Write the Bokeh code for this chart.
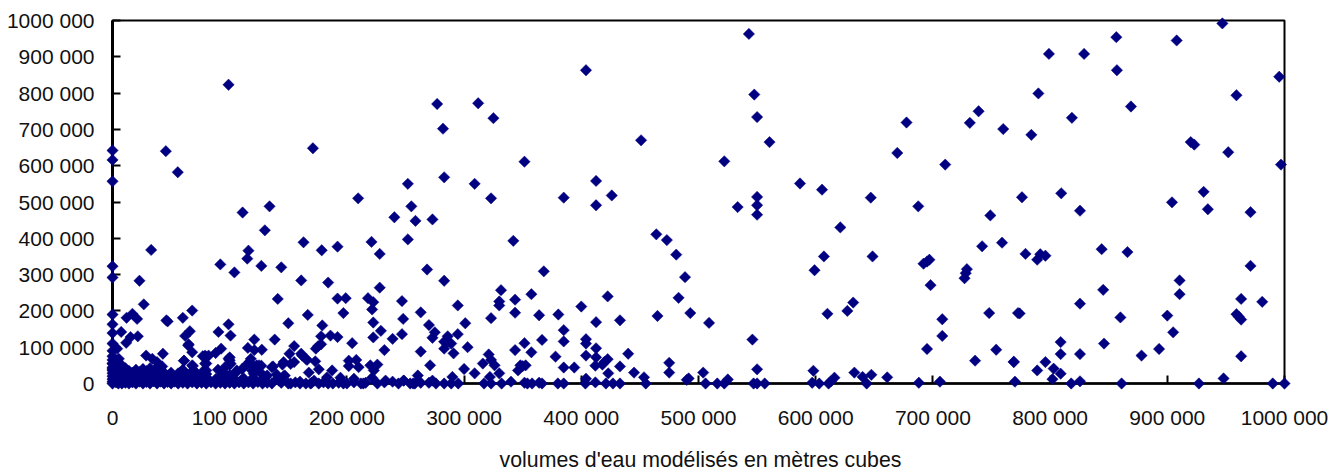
from bokeh.plotting import figure
from bokeh.embed import file_html
from bokeh.resources import INLINE
from bokeh.models import FixedTicker
from bokeh.core.properties import value
from math import pi

x_tick_labels = ["0","100 000","200 000","300 000","400 000","500 000","600 000","700 000","800 000","900 000","1000 000"]
y_tick_labels = ["0","100 000","200 000","300 000","400 000","500 000","600 000","700 000","800 000","900 000","1000 000"]
x_title = "volumes d'eau modélisés en mètres cubes"
tick_values = [0,100,200,300,400,500,600,700,800,900,1000]

# values in thousands of cubic metres
x_high = [99,0,45.5,0,55.7,0,171,277,312,325,282,351.5,252,283,309,209.6,323,255,240.5,258.5,273,111,134,130,
          543,404,547.6,550,451,560.6,522,677.5,739,731.5,760,669.6,710.5,412.6,385,426,412.6,586.6,605.4,647,550,550,533.4,687.5,550,749,
          947,856.5,908,799,829,857,995.5,790,959,869,818.6,784,920,923,952,997,776,809.5,931,904,
          825.5,934.6,971,759,779,791.6,796,789,844,866,971,910.5,910.5,845.3,963,981,825.5,774,860,900,959,961,963,905,
          809,846,809,825.5,878,893,963,769,796,789,803,809,802,770,825.5,818,861,927,948,990,1000]
y_high = [823,642,640,616,582,557,648,770,772,731,702,611,550,568,550,510,510,488,458,448,452,471,488,422,
          963,863,796,734,670,665,612,719,750,718,701,635,603,558,512,518,491,551,534,512,514,491,486,488,465,463,
          992,954,945,908,908,863,845,799,794,763,732,685,665,658,637,603,513,524,528,499,
          476,480,472,388,357,356,352,341,370,362,324,284,246,258,233,225,220,193,182,187,191,184,176,141,
          114,110,81,81,77,95,75,60,59,36,41,27,12,5,6,0,0,0,14,0,0]

x_mid = [621,607,599,648.5,692,695,697,698,729,728,727,742,509,546,550,504,506,516,522,525,547,550,556.5,598,597,603,611,613,616,
         632,627,610,633,640,647.5,643.5,661,688,706,708,708,695,736,754,748,772.6,769,
         252,342,268.4,283,368,331.5,330,330,343.5,357.4,343.5,323,294.6,247,263,248,247,270,275,273,301,294.6,286,283,289,286,283,303,291,263,271,300,260.5,290,309,316,321,323,326,330,322,
         351.5,343.5,357.4,366.5,364,380.4,400,422.5,412.6,433,385,385,404,404,412.6,404,412.6,378,348,350,352.5,346,385,394,412,418,420,422.5,433,423,440,445,453.5,455,475,475,465,493,483,488.5,481,473,464,490,491.6,404,403.5,412,421,427,433,
         248.5,254,258,263,270,273,276,283,289,295,317,323,332,340,351.5,354,358,364,366.5,380,385]
y_mid = [430,350,312,350,330,336,341,271,315,304,290,378,167,121,39,30,0,0,0,11,0,0,0,35,2,0,0,6,16,
         223,200,192,30,18,24,0,17,2,5,177,131,95,63,93,194,194,59,
         397,393,314,283,309,257,226,215,231,246,195,180,215,227,196,178,136,161,141,126,166,136,130,115,110,115,96,100,83,88,50,40,22,18,28,55,80,65,50,28,18,
         111,92,86,120,188,190,212,240,169,174,147,116,122,110,97,77,72,74,50,48,50,36,44,44,49,52,60,67,47,28,82,30,17,0,57,30,186,194,236,293,355,395,411,10,14,13,0,3,0,0,0,
         8,0,0,2,2,8,0,0,0,0,0,0,0,5,2,0,0,2,0,0,0]

x_low = [33,0,0,23,116,115,127,104,92,144,163,178.5,192,221,228,161,184,228,141,192,199,218,222.5,221.5,166.6,197,222.5,150,179,229,178,186,192,222.5,239,204.5,138.4,155,175.5,178,173.5,232,121,115.5,121,127.4,100.7,99,90.4,92.7,88,82,77,
         26.7,0,12,17,21,46,47,60,68,66,62,0,0,7.4,21.6,15.4,11.7,0,4,0,64.6,43,28.7,34,38,42.4,68,61,68.5,79,99,100.7,96,79,78,5.4,0,0,0,
         117,110.6,123,126,119,105.5,51,58,72,151,161,165,146,155,173,176,167.5,187.4,137,127,147,140.5,130.5,201.6,208,201.6,210,220,226,223,194.5,183,206,221.5,233,239,248.5,152,160,214,169,184,197,256.5,
         51,61,65,68,72,80,80,80,80,100,100,100,106,115,118,120.5,125,132,136,145,152,161.8,166,146,142,172]
y_low = [368,323,292,283,366,344,324,306,328,320,389,367,377,390,357,284,278,264,233,234,235,235,224,204,189,194,168,166,160,145,130,132,128,127,123,111,121,103,103,108,96,92,121,98,92,93,132,163,142,96,84,77,75,
         218,190,181,192,178,174,171,181,201,144,131,163,139,142,130,128,112,110,96,90,105,82,77,68,59,47,86,63,48,77,68,55,45,55,36,68,75,55,40,
         59,40,50,31,36,31,22,31,27,82,82,68,59,59,61,39,30,36,47,49,22,13,17,63,65,48,45,50,52,36,16,17,13,16,8,5,8,0,0,0,0,0,0,0,
         22,63,108,50,22,73,55,36,18,72,64,52,36,54,68,27,50,22,45,52,54,77,65,20,8,8]

x_dense = [0,0,0,0,0,0,0,0,0,3,3,3,3,5,5,5,5,8,8,8,8,8,11,11,11,11,14,14,14,14,17,17,17,20,20,20,20,23,23,23,26,26,26,26,29,29,29,32,32,32,32,35,35,35,38,38,38,38,41,41,41,44,44,44,47,47,50,50,50,53,53,56,56,56,60,60,60,64,64,64,68,68,68,72,72,72,76,76,80,80,80,84,88,88,92,92,96,96,100,100,104,104,108,112,112,116,120,120,124,128,128,132,136,
           144,150,156,160,165,170,176,180,188,193,200,206,212,216,226,232,244,90,95,110,140]
y_dense = [0,5,12,20,28,36,44,55,65,3,15,30,48,0,10,22,38,0,6,18,32,50,2,14,28,42,0,8,22,35,3,16,30,0,10,24,38,5,18,32,0,12,26,40,4,20,34,0,10,27,42,6,18,34,0,12,28,44,5,20,36,0,12,30,4,20,0,12,30,5,18,0,10,28,2,16,38,0,8,24,3,14,34,0,10,27,2,16,0,8,26,3,0,12,2,20,0,10,2,24,0,12,3,0,14,3,0,16,4,0,10,2,0,
           2,0,3,5,0,2,0,3,0,2,0,3,0,2,0,3,0,38,30,10,25]

xs = x_high + x_mid + x_low + x_dense
ys = y_high + y_mid + y_low + y_dense

p = figure(width=1331, height=472, x_range=(0,1000), y_range=(0,1000),
           output_backend="svg", toolbar_location=None,
           min_border_left=112, min_border_right=47, min_border_top=20, min_border_bottom=89,
           background_fill_color="white", border_fill_color="white")
p.grid.visible = False
p.outline_line_color = "black"
p.outline_line_width = 2

for ax, labels in ((p.xaxis[0], x_tick_labels), (p.yaxis[0], y_tick_labels)):
    ax.ticker = FixedTicker(ticks=tick_values)
    ax.major_label_overrides = {v: s for v, s in zip(tick_values, labels)}
    ax.major_tick_in = 8
    ax.major_tick_out = 0
    ax.minor_tick_line_color = None
    ax.major_tick_line_color = "black"
    ax.major_tick_line_width = 2
    ax.axis_line_color = "black"
    ax.major_label_text_font = "Liberation Sans"
    ax.major_label_text_font_size = "21px"
    ax.major_label_text_color = "#111111"

p.yaxis[0].axis_line_width = 3
p.xaxis[0].axis_line_width = 2.5
p.xaxis[0].major_label_standoff = 22
p.yaxis[0].major_label_standoff = 18

p.text([501.7], [-212], text=[x_title], level="overlay",
       text_font=value("Liberation Sans"), text_font_size="21.3px", text_color="#111111",
       text_align="center", text_baseline="middle")

p.scatter(xs, ys, marker="square", size=8, angle=pi/4, fill_color="#000080", line_color="#000080",
          line_width=0.5, level="overlay")

open("out.html", "w").write(file_html(p, INLINE))
